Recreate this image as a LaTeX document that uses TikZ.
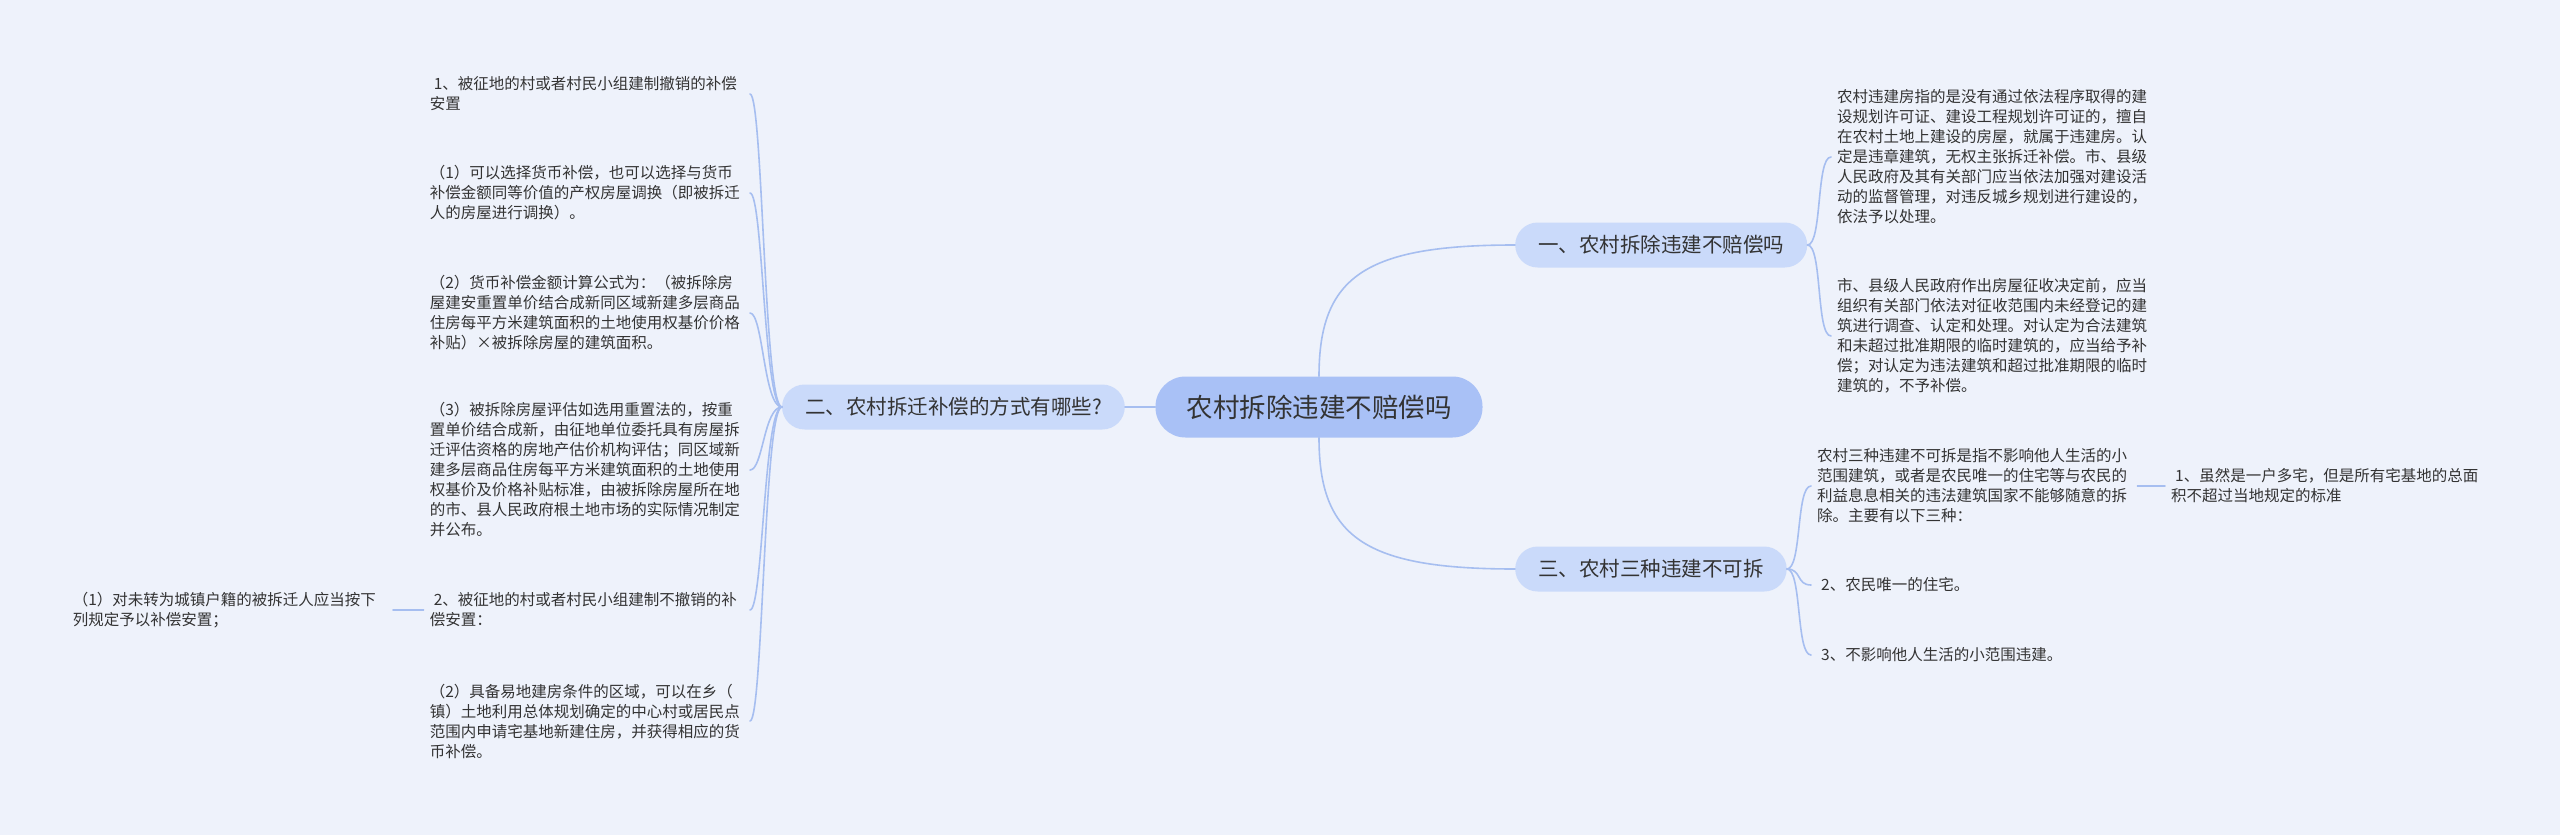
\documentclass[tikz,border=0pt]{standalone}
\usepackage{fontspec}
\setmainfont{Noto Sans CJK SC}
\usepackage{tikz}
\usetikzlibrary{calc,positioning}
\definecolor{mmbg}{HTML}{EEF2FB}
\definecolor{mmink}{HTML}{333333}
\definecolor{mmroot}{HTML}{A9C1F6}
\definecolor{mmtopic}{HTML}{CADAFA}
\definecolor{mmline}{HTML}{A6BEF0}

\begin{document}
\begin{tikzpicture}[x=1pt,y=-1pt,line cap=round,line join=round,text=mmink,
  rootbox/.style={rounded corners=30pt,fill=mmroot,minimum height=61pt,inner xsep=31pt,inner ysep=0pt,
    font=\fontsize{26.5}{30}\selectfont},
  topic/.style={rounded corners=22.5pt,fill=mmtopic,minimum height=45pt,inner xsep=23pt,inner ysep=0pt,
    font=\fontsize{20.5}{24}\selectfont},
  leaf/.style={align=left,text width=314pt,inner xsep=6pt,inner ysep=2pt,
    font=\fontsize{15.5}{20}\selectfont},
  link/.style={draw=mmline,line width=1.6pt}]
\useasboundingbox (0,0) rectangle (2560,835);
\fill[mmbg] (0,0) rectangle (2560,835);
% 中心主题与一级分支
\node[rootbox] (root) at (1319,407) {农村拆除违建不赔偿吗};
\node[topic,anchor=east] (two) at (1125,407) {二、农村拆迁补偿的方式有哪些?};
\node[topic,anchor=west] (one) at (1515,245) {一、农村拆除违建不赔偿吗};
\node[topic,anchor=west] (three) at (1515,569) {三、农村三种违建不可拆};
\draw[link] (root.west) -- (two.east);
\draw[link] (root.north) .. controls +(0,-100) and +(-150,0) .. (one.west);
\draw[link] (root.south) .. controls +(0,100) and +(-150,0) .. (three.west);
% 左侧：补偿方式
\node[leaf,anchor=east] (a1) at (750,94) {\hspace*{4pt}1、被征地的村或者村民小组建制撤销的补偿\\安置};
\node[leaf,anchor=east] (b1) at (750,193) {（1）可以选择货币补偿，也可以选择与货币\\补偿金额同等价值的产权房屋调换（即被拆迁\\人的房屋进行调换）。};
\node[leaf,anchor=east] (c1) at (750,313) {（2）货币补偿金额计算公式为：（被拆除房\\屋建安重置单价结合成新同区域新建多层商品\\住房每平方米建筑面积的土地使用权基价价格\\补贴）×被拆除房屋的建筑面积。};
\node[leaf,anchor=east] (d1) at (750,470) {（3）被拆除房屋评估如选用重置法的，按重\\置单价结合成新，由征地单位委托具有房屋拆\\迁评估资格的房地产估价机构评估；同区域新\\建多层商品住房每平方米建筑面积的土地使用\\权基价及价格补贴标准，由被拆除房屋所在地\\的市、县人民政府根土地市场的实际情况制定\\并公布。};
\node[leaf,anchor=east] (e1) at (750,610) {\hspace*{4pt}2、被征地的村或者村民小组建制不撤销的补\\偿安置：};
\node[leaf,anchor=east] (f1) at (750,721) {（2）具备易地建房条件的区域，可以在乡（\\镇）土地利用总体规划确定的中心村或居民点\\范围内申请宅基地新建住房，并获得相应的货\\币补偿。};
\node[leaf,anchor=east] (g1) at (393,610) {（1）对未转为城镇户籍的被拆迁人应当按下\\列规定予以补偿安置；};
\foreach \leafname in {a1,b1,c1,d1,e1,f1}
  \draw[link] (two.west) .. controls +(-18,0) and +(13,0) .. (\leafname.east);
\draw[link] (g1.east) -- (e1.west);
% 右上：不赔偿
\node[leaf,anchor=west] (r1) at (1831,157) {农村违建房指的是没有通过依法程序取得的建\\设规划许可证、建设工程规划许可证的，擅自\\在农村土地上建设的房屋，就属于违建房。认\\定是违章建筑，无权主张拆迁补偿。市、县级\\人民政府及其有关部门应当依法加强对建设活\\动的监督管理，对违反城乡规划进行建设的，\\依法予以处理。};
\node[leaf,anchor=west] (r2) at (1831,336) {市、县级人民政府作出房屋征收决定前，应当\\组织有关部门依法对征收范围内未经登记的建\\筑进行调查、认定和处理。对认定为合法建筑\\和未超过批准期限的临时建筑的，应当给予补\\偿；对认定为违法建筑和超过批准期限的临时\\建筑的，不予补偿。};
\foreach \leafname in {r1,r2}
  \draw[link] (one.east) .. controls +(15,0) and +(-15,0) .. (\leafname.west);
% 右下：三种违建
\node[leaf,anchor=west] (s1) at (1811,486) {农村三种违建不可拆是指不影响他人生活的小\\范围建筑，或者是农民唯一的住宅等与农民的\\利益息息相关的违法建筑国家不能够随意的拆\\除。主要有以下三种：};
\node[leaf,anchor=west] (s2) at (1811,585) {\hspace*{4pt}2、农民唯一的住宅。};
\node[leaf,anchor=west] (s3) at (1811,655) {\hspace*{4pt}3、不影响他人生活的小范围违建。};
\node[leaf,anchor=west] (t1) at (2165,486) {\hspace*{4pt}1、虽然是一户多宅，但是所有宅基地的总面\\积不超过当地规定的标准};
\foreach \leafname in {s1,s2,s3}
  \draw[link] (three.east) .. controls +(15,0) and +(-15,0) .. (\leafname.west);
\draw[link] (s1.east) -- (t1.west);
\end{tikzpicture}
\end{document}
